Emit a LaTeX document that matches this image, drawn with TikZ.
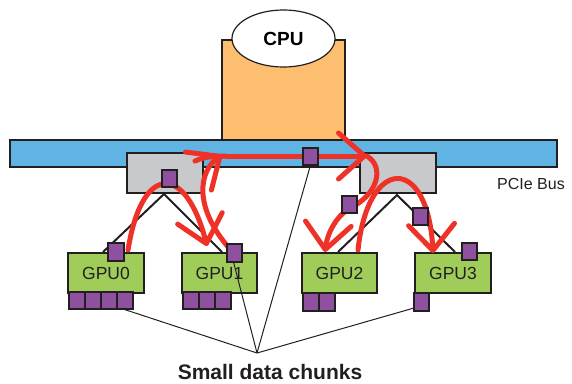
\documentclass[tikz,border=0pt]{standalone}
\usepackage{fontspec}
\setmainfont{Liberation Sans}
\usetikzlibrary{arrows.meta,shapes.geometric,calc}
\definecolor{busblue}{RGB}{96,180,228}
\definecolor{cpuorange}{RGB}{253,191,111}
\definecolor{swgray}{RGB}{200,201,204}
\definecolor{gpugreen}{RGB}{160,205,90}
\definecolor{chunkpurple}{RGB}{143,80,160}
\definecolor{flowred}{RGB}{238,50,40}
\definecolor{edge}{RGB}{35,31,32}
\tikzset{
  box/.style={draw=edge, line width=1.2pt, inner sep=0pt, outer sep=0pt, anchor=north west},
  gpubox/.style={box, fill=gpugreen, minimum width=75pt, minimum height=40pt},
  swbox/.style={box, fill=swgray, minimum width=76pt, minimum height=40pt},
  chunk/.style={box, fill=chunkpurple, minimum width=15pt, minimum height=17pt},
  link/.style={draw=edge, line width=2pt},
  pointer/.style={draw=edge, line width=1pt},
  flow/.style={draw=flowred, line width=5pt, line cap=round,
    -{Straight Barb[length=26pt,width=46pt,round]}},
  flowplain/.style={draw=flowred, line width=5pt, line cap=round},
  gputext/.style={font=\fontsize{17.5}{17.5}\selectfont, text=edge}
}
\begin{document}
\begin{tikzpicture}[x=1pt,y=-1pt]
\useasboundingbox (0,0) rectangle (572,383);
% CPU
\node[box, fill=cpuorange, minimum width=123pt, minimum height=100pt] (cpubox) at (222,40) {};
\node[draw=edge, line width=1.2pt, fill=white, ellipse, minimum width=103pt, minimum height=57pt, inner sep=0pt,
      font=\bfseries\fontsize{19}{19}\selectfont] (cpu) at (283.5,38.5) {CPU};
% bus
\node[box, fill=busblue, minimum width=547pt, minimum height=27pt] (bus) at (10,140) {};
\node[anchor=west, font=\fontsize{16}{16}\selectfont, inner sep=0pt, text=edge] (buslabel) at (497,184) {PCIe Bus};
% switches
\node[swbox] (sw0) at (127,153) {};
\node[swbox] (sw1) at (360,153) {};
% GPUs
\node[gpubox, minimum width=76pt] (gpu0) at (68,253) {};
\node[gpubox] (gpu1) at (182,253) {};
\node[gpubox] (gpu2) at (302,253) {};
\node[gpubox, minimum width=76pt] (gpu3) at (415,253) {};
% switch links
\coordinate (ap0) at (164,194);
\coordinate (ap1) at (397,195);
\coordinate (g0in) at (103,252);
\coordinate (g1in) at (222,252);
\coordinate (g2in) at (338,252);
\coordinate (g3in) at (455,252);
\draw[link] (g0in) -- (ap0) -- (g1in);
\draw[link] (g2in) -- (ap1) -- (g3in);
% GPU labels
\node[gputext] at (gpu0.center) {GPU0};
\node[gputext] at (gpu1.center) {GPU1};
\node[gputext] at (gpu2.center) {GPU2};
\node[gputext] at (gpu3.center) {GPU3};
% red flows
\coordinate (f1s) at (128,250);
\coordinate (f1e) at (207,246);
\draw[flow] (f1s) .. controls (142,162) and (186,164) .. (f1e);
\coordinate (f2s) at (229,248);
\coordinate (f2e) at (222,155);
\draw[flow] (f2s) .. controls (192,205) and (200,170) .. (f2e);
\coordinate (f3s) at (195,161);
\coordinate (f3m) at (226,156);
\coordinate (f3e) at (367,156);
\draw[flowplain] (f3s) .. controls (205,157) .. (f3m);
\draw[flow] (f3m) -- (f3e);
\coordinate (f4m) at (350,208);
\coordinate (f4e) at (325,252);
\draw[flow] (f3e) .. controls (386,168) and (376,196) .. (f4m) .. controls (335,217) and (327,235) .. (f4e);
\coordinate (f5s) at (358,250);
\coordinate (f5e) at (433,253);
\draw[flow] (f5s) .. controls (368,155) and (428,155) .. (f5e);
% chunks in switches / bus / transit
\node[chunk] (bs) at (303,148) {};
\node[chunk] (s0c) at (162,170) {};
\node[chunk] (t1) at (342,196) {};
\node[chunk] (t2) at (413,208) {};
\node[chunk, minimum width=16pt, minimum height=18pt] (g0t) at (108,243) {};
\node[chunk, minimum height=18pt] (g1t) at (227,244) {};
\node[chunk] (g3t) at (462,243) {};
% bottom chunks
\foreach \i/\x in {0/69,1/85,2/101,3/117} \node[chunk, minimum width=16pt] (c0\i) at (\x,292) {};
\foreach \i/\x in {0/183,1/199,2/215} \node[chunk, minimum width=16pt] (c1\i) at (\x,292) {};
\foreach \i/\x in {0/303,1/319} \node[chunk, minimum width=16pt, minimum height=18pt] (c2\i) at (\x,293) {};
\node[chunk, minimum height=18pt] (c30) at (414,293) {};
% pointers
\coordinate (apex) at (257,353);
\draw[pointer] ($(c03.south)+(-2,0)$) -- (apex);
\draw[pointer] ($(g1t.south)+(-1,0)$) -- (apex);
\draw[pointer] (bs.south) -- (apex);
\draw[pointer] ($(c30.south west)+(0,-3)$) -- (apex);
\node[font=\bfseries\fontsize{21}{21}\selectfont, text=edge, inner sep=0pt, anchor=base] (label) at (270,379) {Small data chunks};
\end{tikzpicture}
\end{document}
